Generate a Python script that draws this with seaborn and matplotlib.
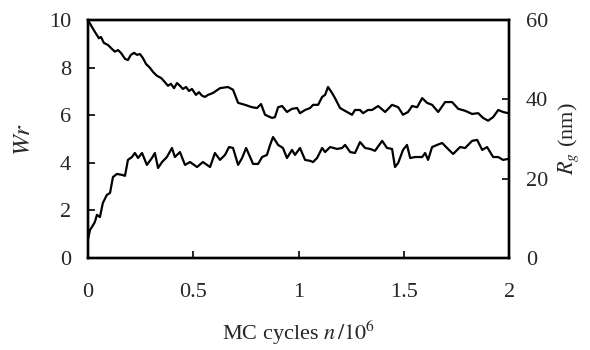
import numpy as np
import pandas as pd
import matplotlib
matplotlib.use('Agg')
import matplotlib.pyplot as plt
import seaborn as sns

# writhe Wr (left axis)
wr_n = [0.000, 0.010, 0.019, 0.033, 0.043, 0.057, 0.071, 0.090, 0.105, 0.119,
        0.138, 0.162, 0.176, 0.190, 0.209, 0.223, 0.238, 0.257, 0.280, 0.304,
        0.318, 0.333, 0.352, 0.375, 0.399, 0.413, 0.437, 0.461, 0.485, 0.518,
        0.546, 0.580, 0.603, 0.627, 0.651, 0.670, 0.689, 0.713, 0.732, 0.751,
        0.770, 0.784, 0.808, 0.827, 0.850, 0.865, 0.879, 0.903, 0.926, 0.945,
        0.969, 0.983, 1.007, 1.031, 1.055, 1.069, 1.088, 1.112, 1.126, 1.150,
        1.183, 1.207, 1.221, 1.245, 1.268, 1.292, 1.316, 1.340, 1.363, 1.397,
        1.420, 1.444, 1.458, 1.473, 1.496, 1.515, 1.530, 1.553, 1.587, 1.601,
        1.615, 1.634, 1.658, 1.682, 1.705, 1.734, 1.767, 1.791, 1.824, 1.848,
        1.872, 1.895, 1.924, 1.948, 1.971, 1.995]
wr = [0.76, 1.18, 1.30, 1.51, 1.81, 1.72, 2.31, 2.65, 2.73, 3.40,
      3.53, 3.49, 3.45, 4.12, 4.24, 4.41, 4.20, 4.41, 3.91, 4.20,
      4.41, 3.78, 4.03, 4.24, 4.62, 4.24, 4.45, 3.91, 4.03, 3.82,
      4.03, 3.82, 4.41, 4.12, 4.33, 4.66, 4.62, 3.91, 4.20, 4.62,
      4.24, 3.95, 3.95, 4.24, 4.33, 4.75, 5.08, 4.75, 4.62, 4.20,
      4.54, 4.33, 4.62, 4.12, 4.08, 4.03, 4.20, 4.62, 4.45, 4.66,
      4.58, 4.62, 4.75, 4.45, 4.41, 4.87, 4.62, 4.58, 4.50, 4.92,
      4.62, 4.58, 3.82, 3.99, 4.54, 4.75, 4.20, 4.24, 4.24, 4.41,
      4.12, 4.66, 4.75, 4.83, 4.62, 4.37, 4.66, 4.62, 4.92, 4.96,
      4.54, 4.66, 4.24, 4.24, 4.12, 4.16]

# radius of gyration Rg in nm (right axis)
rg_n = [0.000, 0.014, 0.033, 0.052, 0.062, 0.076, 0.095, 0.114, 0.128, 0.143,
        0.157, 0.176, 0.190, 0.204, 0.219, 0.233, 0.247, 0.261, 0.276, 0.295,
        0.309, 0.328, 0.347, 0.366, 0.380, 0.394, 0.409, 0.423, 0.437, 0.451,
        0.466, 0.480, 0.494, 0.513, 0.527, 0.542, 0.556, 0.570, 0.594, 0.627,
        0.665, 0.689, 0.713, 0.746, 0.779, 0.803, 0.822, 0.841, 0.874, 0.888,
        0.903, 0.922, 0.945, 0.969, 0.993, 1.007, 1.031, 1.055, 1.069, 1.093,
        1.112, 1.126, 1.140, 1.159, 1.173, 1.197, 1.230, 1.254, 1.268, 1.292,
        1.306, 1.330, 1.349, 1.378, 1.411, 1.444, 1.473, 1.496, 1.520, 1.539,
        1.563, 1.587, 1.610, 1.634, 1.663, 1.696, 1.729, 1.758, 1.791, 1.824,
        1.853, 1.876, 1.900, 1.924, 1.948, 1.971, 1.995]
rg = [60.0, 58.7, 57.0, 55.4, 55.7, 54.2, 53.7, 52.7, 52.0, 52.4,
      51.7, 50.2, 49.9, 51.2, 51.7, 51.2, 51.4, 50.4, 48.9, 47.9,
      46.9, 45.9, 45.4, 44.3, 43.4, 43.9, 42.8, 44.1, 43.4, 42.6,
      43.1, 42.1, 42.6, 41.1, 41.8, 40.9, 40.6, 41.1, 41.6, 42.8,
      43.1, 42.4, 39.1, 38.6, 38.0, 37.8, 38.8, 36.1, 35.3, 35.5,
      38.0, 38.3, 36.8, 37.6, 37.8, 36.5, 37.3, 37.8, 38.6, 38.6,
      40.6, 41.1, 43.1, 41.6, 40.3, 37.8, 36.8, 36.1, 37.3, 37.3,
      36.5, 37.3, 37.3, 38.3, 36.8, 38.6, 38.0, 36.1, 36.8, 38.3,
      38.0, 40.3, 39.1, 38.6, 36.8, 39.3, 39.3, 37.6, 37.1, 36.3,
      36.5, 35.3, 34.6, 35.5, 37.3, 36.8, 36.5]

x_ticks = [0, 0.5, 1, 1.5, 2]
x_ticklabels = ['0', '0.5', '1', '1.5', '2']
wr_ticks = [0, 2, 4, 6, 8, 10]
rg_ticks = [0, 20, 40, 60]

sns.set_style('ticks')
plt.rcParams['font.family'] = ['Liberation Serif', 'DejaVu Serif']
plt.rcParams['mathtext.fontset'] = 'stix'

df_wr = pd.DataFrame({'n': wr_n, 'Wr': wr})
df_rg = pd.DataFrame({'n': rg_n, 'Rg': rg})

fig = plt.figure(figsize=(5.9, 3.5), dpi=100)
ax = fig.add_axes([0.149, 0.263, 0.714, 0.68])
ax2 = ax.twinx()

sns.lineplot(data=df_wr, x='n', y='Wr', ax=ax, color='black', lw=1.6,
             estimator=None, sort=False)
sns.lineplot(data=df_rg, x='n', y='Rg', ax=ax2, color='black', lw=1.6,
             estimator=None, sort=False)

ax.set_xlim(0, 2)
ax.set_ylim(0, 10)
ax2.set_ylim(0, 60)
ax.set_xticks(x_ticks)
ax.set_xticklabels(x_ticklabels)
ax.set_yticks(wr_ticks)
ax2.set_yticks(rg_ticks)

for a in (ax, ax2):
    for s in a.spines.values():
        s.set_visible(True)
        s.set_linewidth(1.7)
        s.set_color('black')
ax.tick_params(axis='x', direction='in', length=5, width=1.4, labelsize=16, pad=18)
ax.tick_params(axis='y', direction='in', length=5, width=1.4, labelsize=16, pad=12)
ax2.tick_params(axis='y', direction='in', length=5, width=1.4, labelsize=16, pad=12)

ax.set_xlabel(r'MC cycles $n\,/10^6$', fontsize=16, labelpad=12)
ax.set_ylabel(r'$Wr$', fontsize=18, labelpad=10)
ax2.set_ylabel(r'$R_g$ (nm)', fontsize=16, labelpad=6)

fig.savefig('out.png', dpi=100)
